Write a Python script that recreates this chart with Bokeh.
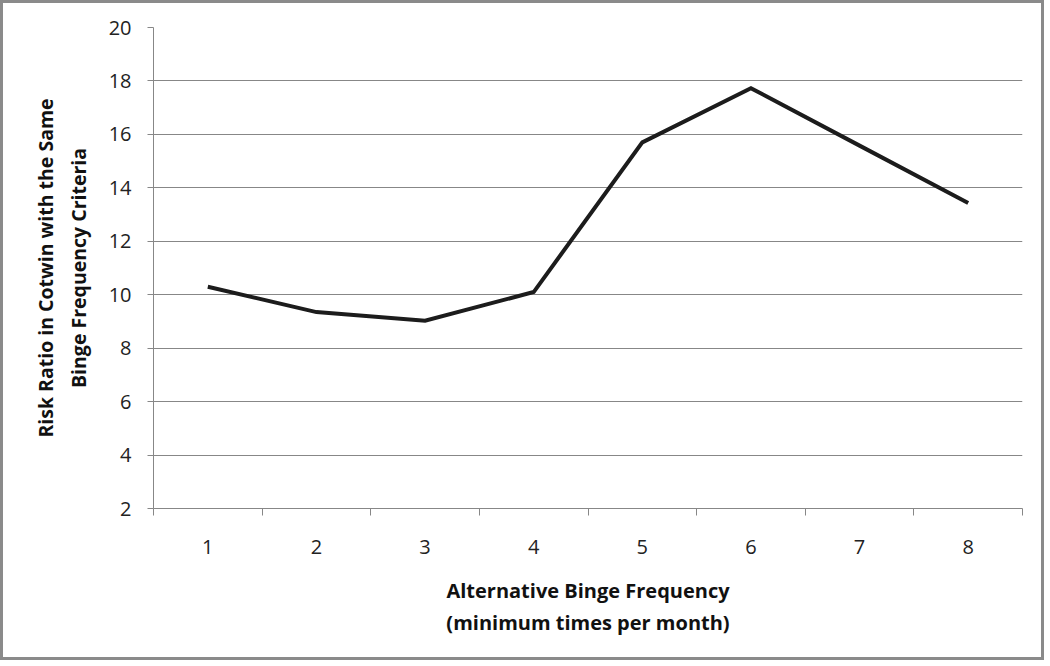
from bokeh.plotting import figure
from bokeh.models import FixedTicker, Range1d
from bokeh.embed import file_html
from bokeh.resources import INLINE

frequency = [1, 2, 3, 4, 5, 6, 7, 8]
risk_ratio = [10.3, 9.35, 9.03, 10.1, 15.7, 17.73, 15.58, 13.43]
y_ticks = [2, 4, 6, 8, 10, 12, 14, 16, 18, 20]
x_title = "Alternative Binge Frequency\n(minimum times per month)"
y_title = "Risk Ratio in Cotwin with the Same\nBinge Frequency Criteria"

FONT = "Open Sans"
GRID = "#878787"

p = figure(width=1044, height=660, output_backend="svg", toolbar_location=None,
           x_range=Range1d(0.5, 8.5), y_range=Range1d(2, 20),
           min_border_left=150, min_border_top=24, min_border_right=25,
           min_border_bottom=155)
p.styles = {"border": "3px solid #8a8a8a"}
p.outline_line_color = None
p.background_fill_color = "white"
p.border_fill_color = "white"

p.line(frequency, risk_ratio, line_width=4, line_color="#1c1c1c", line_join="miter")

# x axis
p.xaxis.ticker = FixedTicker(ticks=frequency, minor_ticks=[i + 0.5 for i in range(0, 9)])
p.xaxis.major_tick_out = 0
p.xaxis.major_tick_in = 0
p.xaxis.minor_tick_out = 7
p.xaxis.minor_tick_in = 0
p.xaxis.minor_tick_line_color = GRID
p.xaxis.axis_line_color = GRID
p.xaxis.major_label_standoff = 24
p.xaxis.major_label_text_font = FONT
p.xaxis.major_label_text_font_size = "20px"
p.xaxis.major_label_text_color = "#222222"
p.xaxis.axis_label = x_title
p.xaxis.axis_label_text_font = FONT
p.xaxis.axis_label_text_font_style = "bold"
p.xaxis.axis_label_text_font_size = "20px"
p.xaxis.axis_label_text_color = "#111111"
p.xaxis.axis_label_standoff = 20
p.xgrid.grid_line_color = None

# y axis
p.yaxis.ticker = FixedTicker(ticks=y_ticks)
p.yaxis.major_tick_out = 6
p.yaxis.major_tick_in = 0
p.yaxis.minor_tick_line_color = None
p.yaxis.axis_line_color = GRID
p.yaxis.major_tick_line_color = GRID
p.yaxis.major_label_standoff = 16
p.yaxis.major_label_text_font = FONT
p.yaxis.major_label_text_font_size = "20px"
p.yaxis.major_label_text_color = "#222222"
p.yaxis.axis_label = y_title
p.yaxis.axis_label_text_font = FONT
p.yaxis.axis_label_text_font_style = "bold"
p.yaxis.axis_label_text_font_size = "19.5px"
p.yaxis.axis_label_text_color = "#111111"
p.yaxis.axis_label_standoff = 14
p.ygrid.grid_line_color = GRID
p.ygrid.grid_line_width = 1.2

open("out.html", "w").write(file_html(p, INLINE))
